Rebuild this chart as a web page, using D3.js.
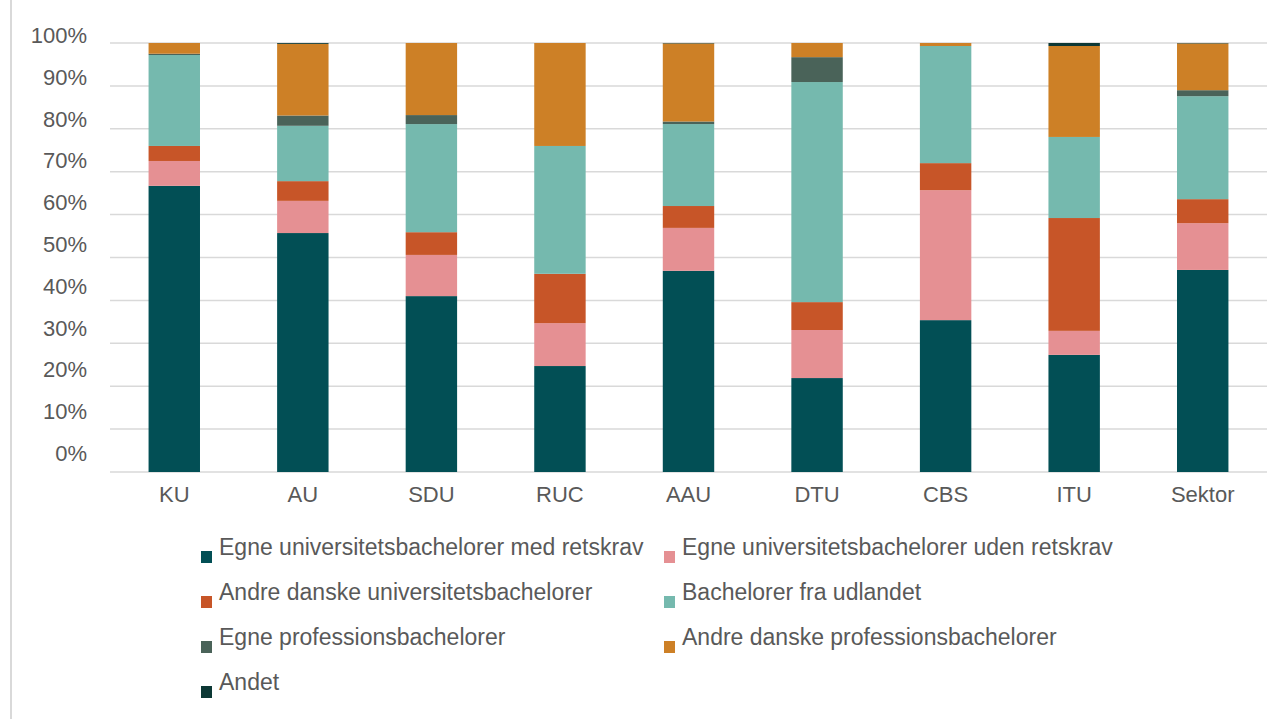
<!DOCTYPE html>
<html>
<head>
<meta charset="utf-8">
<script src="https://cdn.jsdelivr.net/npm/d3@7"></script>
<style>
  body { margin: 0; background: #fff; }
  text { font-family: "Liberation Sans", Arial, sans-serif; fill: #595959; }
</style>
</head>
<body>
<script>
// Categories (x axis)
var categories = ['KU', 'AU', 'SDU', 'RUC', 'AAU', 'DTU', 'CBS', 'ITU', 'Sektor'];

// Series names, bottom to top of the stack
var seriesNames = [
  'Egne universitetsbachelorer med retskrav',
  'Egne universitetsbachelorer uden retskrav',
  'Andre danske universitetsbachelorer',
  'Bachelorer fra udlandet',
  'Egne professionsbachelorer',
  'Andre danske professionsbachelorer',
  'Andet'
];

// Shares in percent, one value per category
var egneMed       = [66.7, 55.7, 41.0, 24.7, 46.9, 21.9, 35.4, 27.3, 47.1];
var egneUden      = [ 5.8,  7.5,  9.6, 10.0, 10.0, 11.2, 30.3,  5.6, 10.9];
var andreUni      = [ 3.5,  4.6,  5.3, 11.5,  5.1,  6.5,  6.3, 26.3,  5.6];
var udlandet      = [21.2, 12.9, 25.2, 29.8, 19.1, 51.3, 27.3, 18.9, 24.0];
var egneProf      = [ 0.3,  2.4,  2.1,  0.0,  0.6,  5.8,  0.0,  0.0,  1.4];
var andreProf     = [ 2.5, 16.7, 16.8, 24.0, 18.2,  3.3,  0.7, 21.2, 10.9];
var andet         = [ 0.0,  0.2,  0.0,  0.0,  0.1,  0.0,  0.0,  0.7,  0.1];

var yTicks = [0, 10, 20, 30, 40, 50, 60, 70, 80, 90, 100];

var colors = ['#024f55', '#e59093', '#c75528', '#75b9ae', '#4a6359', '#cd8026', '#0c3835'];

// Build a table for d3.stack
var seriesValues = [egneMed, egneUden, andreUni, udlandet, egneProf, andreProf, andet];
var table = categories.map(function(c, i) {
  var row = { cat: c };
  seriesNames.forEach(function(s, k) { row[s] = seriesValues[k][i]; });
  return row;
});
var stacked = d3.stack().keys(seriesNames)(table);

// Sizes
var svg_width = 1285;
var svg_height = 719;
var plot_left = 110, plot_right = 1267, plot_top = 43, plot_bottom = 472;

var svg = d3.select('body').append('svg')
  .attr('width', svg_width)
  .attr('height', svg_height);

// outer frame edge on the left
svg.append('line')
  .attr('x1', 11).attr('x2', 11)
  .attr('y1', 0).attr('y2', svg_height)
  .attr('stroke', '#d9d9d9')
  .attr('stroke-width', 2);

var x = d3.scaleBand()
  .domain(categories)
  .range([plot_left, plot_right])
  .paddingInner(0.6)
  .paddingOuter(0.3);

var y = d3.scaleLinear()
  .domain([0, 100])
  .range([plot_bottom, plot_top]);

// label positions drift slightly from the gridlines in the original
var yLabel = d3.scaleLinear()
  .domain([0, 100])
  .range([461, 43]);

// Gridlines
svg.selectAll('line.grid')
  .data(yTicks)
  .enter()
  .append('line')
  .attr('class', 'grid')
  .attr('x1', plot_left)
  .attr('x2', plot_right)
  .attr('y1', function(d) { return y(d); })
  .attr('y2', function(d) { return y(d); })
  .attr('stroke', '#d9d9d9')
  .attr('stroke-width', 1.5);

// Y tick labels
svg.selectAll('text.y-axis')
  .data(yTicks)
  .enter()
  .append('text')
  .attr('class', 'y-axis')
  .attr('x', 87)
  .attr('y', function(d) { return yLabel(d); })
  .attr('text-anchor', 'end')
  .style('font-size', '22px')
  .text(function(d) { return d + '%'; });

// Stacked bars
var groups = svg.selectAll('g.series')
  .data(stacked)
  .enter()
  .append('g')
  .attr('class', 'series')
  .attr('fill', function(d, i) { return colors[i]; });

groups.selectAll('rect')
  .data(function(d) { return d; })
  .enter()
  .append('rect')
  .attr('x', function(d) { return x(d.data.cat); })
  .attr('y', function(d) { return y(d[1]); })
  .attr('width', x.bandwidth())
  .attr('height', function(d) { return y(d[0]) - y(d[1]); });

// X axis labels
svg.selectAll('text.x-axis')
  .data(categories)
  .enter()
  .append('text')
  .attr('class', 'x-axis')
  .attr('x', function(d) { return x(d) + x.bandwidth() / 2; })
  .attr('y', plot_bottom + 30)
  .attr('text-anchor', 'middle')
  .style('font-size', '22px')
  .text(function(d) { return d; });

// Legend, two columns
var legend_cols = [201, 664];
var legend_top = 551;
var legend_row = 45;

var legend = svg.selectAll('g.legend')
  .data(seriesNames)
  .enter()
  .append('g')
  .attr('class', 'legend')
  .attr('transform', function(d, i) {
    return 'translate(' + legend_cols[i % 2] + ',' + (legend_top + Math.floor(i / 2) * legend_row) + ')';
  });

legend.append('rect')
  .attr('width', 11)
  .attr('height', 12)
  .attr('y', 0)
  .attr('fill', function(d, i) { return colors[i]; });

legend.append('text')
  .attr('x', 18)
  .attr('y', 4)
  .style('font-size', '23px')
  .text(function(d) { return d; });
</script>
</body>
</html>
